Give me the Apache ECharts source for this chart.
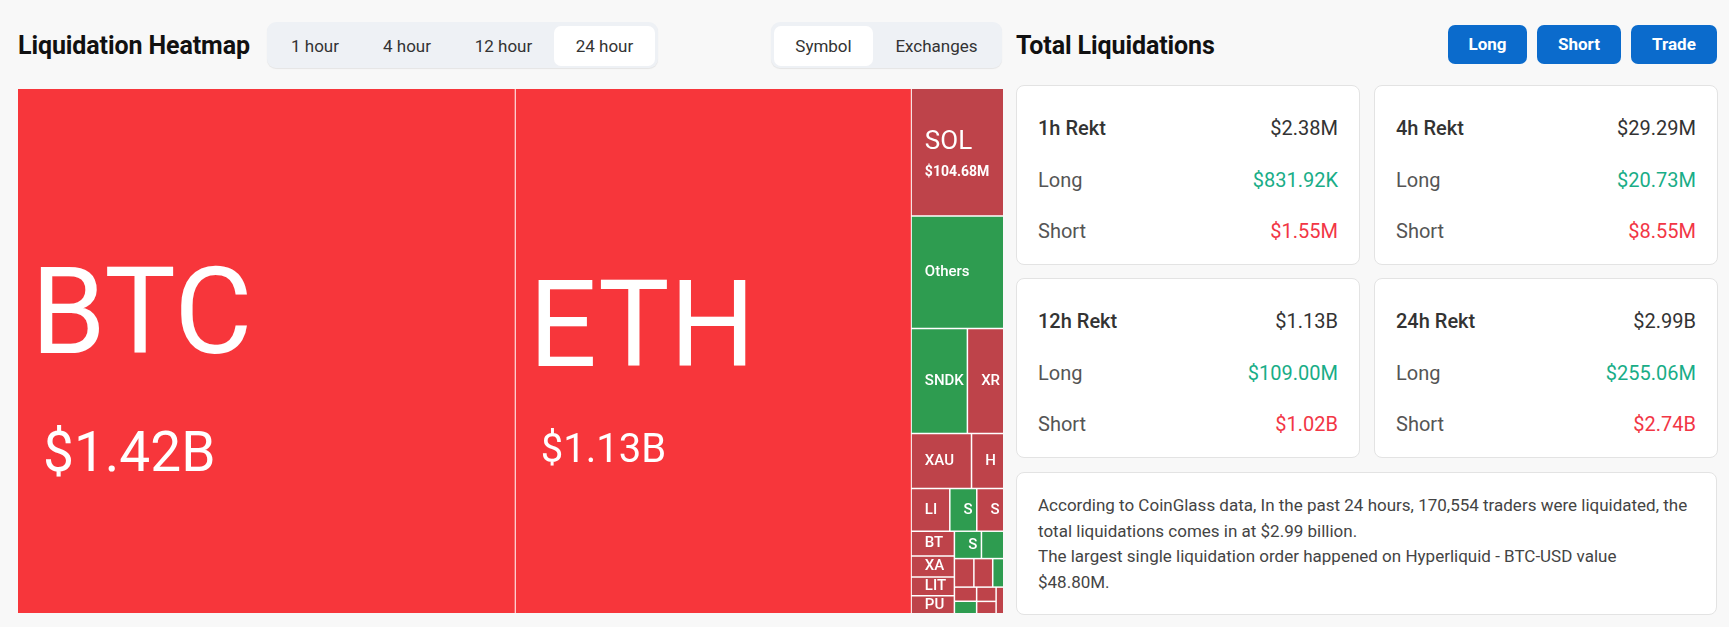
<!DOCTYPE html>
<html>
<head>
<meta charset="utf-8">
<script src="https://cdn.jsdelivr.net/npm/echarts@6/dist/echarts.min.js"></script>
<style>
html,body{margin:0;padding:0;background:#f8f8f8;width:1729px;height:627px;overflow:hidden;font-family:Roboto,"Noto Sans",sans-serif;}
.abs{position:absolute;}
.h1{font-size:25px;font-weight:700;color:#111;line-height:30px;white-space:nowrap;letter-spacing:-0.1px;}
.seg{background:#eef1f5;border-radius:9px;box-shadow:0 1px 1px rgba(0,0,0,0.08);}
.seg span{position:absolute;top:4px;height:40px;line-height:40px;text-align:center;font-size:17px;color:#333;}
.seg span.on{background:#fff;border-radius:7px;}
.btn{position:absolute;top:25px;height:39px;line-height:39px;background:#0b6bcc;color:#fff;border-radius:7px;font-weight:700;font-size:17px;text-align:center;}
.card{position:absolute;background:#fff;border:1px solid #e3e3e3;border-radius:8px;box-sizing:border-box;}
.row{position:absolute;left:21px;right:21px;display:flex;justify-content:space-between;font-size:20px;line-height:24px;color:#555;}
.row.t{color:#333;font-weight:500;}
.row .v{color:#333;font-weight:400;}
.g{color:#19ad87!important;}
.r{color:#f23645!important;}
.txt{position:absolute;left:21px;top:20px;font-size:17px;line-height:25.7px;color:#444;white-space:nowrap;}
#chart{position:absolute;left:18px;top:89px;width:985px;height:524px;}
</style>
</head>
<body>
<div class="abs h1" style="left:18px;top:31px;">Liquidation Heatmap</div>
<div class="abs seg" style="left:267px;top:22px;width:391px;height:46px;">
  <span style="left:2px;width:92px;">1 hour</span>
  <span style="left:94px;width:92px;">4 hour</span>
  <span style="left:186px;width:101px;">12 hour</span>
  <span class="on" style="left:287px;width:101px;">24 hour</span>
</div>
<div class="abs seg" style="left:771px;top:22px;width:231px;height:46px;">
  <span class="on" style="left:3px;width:99px;">Symbol</span>
  <span style="left:102px;width:127px;">Exchanges</span>
</div>
<div class="abs h1" style="left:1016px;top:31px;">Total Liquidations</div>
<div class="btn" style="left:1448px;width:79px;">Long</div>
<div class="btn" style="left:1537px;width:84px;">Short</div>
<div class="btn" style="left:1631px;width:86px;">Trade</div>

<div id="cards"></div>
<div class="card" style="left:1016px;top:472px;width:701px;height:143px;">
  <div class="txt">According to CoinGlass data, In the past 24 hours, 170,554 traders were liquidated, the<br>total liquidations comes in at $2.99 billion.<br>The largest single liquidation order happened on Hyperliquid - BTC-USD value<br>$48.80M.</div>
</div>

<div id="chart"></div>

<script>
// ---- Total liquidation cards ----
const periods = ['1h Rekt', '4h Rekt', '12h Rekt', '24h Rekt'];
const totals  = ['$2.38M', '$29.29M', '$1.13B', '$2.99B'];
const longs   = ['$831.92K', '$20.73M', '$109.00M', '$255.06M'];
const shorts  = ['$1.55M', '$8.55M', '$1.02B', '$2.74B'];

// ---- Heatmap (treemap) data ----
const symbols = ['BTC','ETH','SOL','Others','SNDK','XRP','XAU','HYPE','LINK','SPCX','SKHX','BTW','XAG','LIT','PUMP','SOPH','SKY','TRUMP','CL','WLFI','SUI','BNB','XPL','AVAX','DOGE'];
const sizes   = [1420, 1130, 63.9, 56.3, 31.9, 20.6, 18.0, 9.6, 8.9, 6.2, 6.2, 5.8, 4.9, 4.4, 4.2, 4.0, 3.3, 3.0, 2.9, 1.7, 1.7, 1.5, 1.5, 1.3, 1.1];
const amountLabels = ['$1.42B', '$1.13B', '$104.68M'];
const sides   = ['S+','S+','S','L','L','S','S','S','S','S','L','S','S','S','S','L','L','S','S','S','L','S','L','S','S'];
const majorsCount = 2;

// cards
(function(){
  const pos = [[1016,85],[1374,85],[1016,278],[1374,278]];
  let html = '';
  periods.forEach((p,i)=>{
    html += '<div class="card" style="left:'+pos[i][0]+'px;top:'+pos[i][1]+'px;width:344px;height:180px;">'
      + '<div class="row t" style="top:30px;"><span>'+p+'</span><span class="v">'+totals[i]+'</span></div>'
      + '<div class="row" style="top:82px;"><span>Long</span><span class="g">'+longs[i]+'</span></div>'
      + '<div class="row" style="top:133px;"><span>Short</span><span class="r">'+shorts[i]+'</span></div>'
      + '</div>';
  });
  document.getElementById('cards').innerHTML = html;
})();

const sideColor = {'S+':'#f7363b', 'S':'#be434a', 'L':'#2e9c50'};
// label typography for the large tiles: gap above name, name line, value line
const bigStyle = {
  BTC: {gap:134, nf:120, nlh:200, vf:55, vlh:69, indent:12, vw:'normal'},
  ETH: {gap:167, nf:120, nlh:160, vf:40, vlh:71, indent:12, vw:'normal'},
  SOL: {gap:38,  nf:26,  nlh:30,  vf:14, vlh:31, indent:0,  vw:'bold'}
};
const FONT = 'Roboto';

function leaf(i){
  const item = {name: symbols[i], value: sizes[i], itemStyle: {color: sideColor[sides[i]]}};
  const st = bigStyle[symbols[i]];
  if (st) {
    item.label = {
      formatter: '{s| }\n{n|' + symbols[i] + '}\n{v|' + amountLabels[i] + '}',
      rich: {
        s: {fontSize: 10, lineHeight: st.gap},
        n: {fontSize: st.nf, lineHeight: st.nlh, color: '#fff', fontFamily: FONT, fontWeight: 'normal'},
        v: {fontSize: st.vf, lineHeight: st.vlh, color: '#fff', fontFamily: FONT, fontWeight: st.vw, padding: [0,0,0,st.indent]}
      }
    };
  }
  return item;
}

const majors = [], alts = [];
symbols.forEach((s,i)=>{ (i < majorsCount ? majors : alts).push(leaf(i)); });

const chart = echarts.init(document.getElementById('chart'), null, {renderer:'canvas'});
chart.setOption({
  animation: false,
  series: [{
    type: 'treemap',
    left: 0, top: 0, right: 0, bottom: 0,
    roam: false,
    nodeClick: false,
    breadcrumb: {show: false},
    silent: true,
    label: {
      show: true,
      position: 'insideLeft',
      distance: 0,
      padding: [0,0,0,13],
      color: '#fff',
      fontFamily: FONT,
      fontSize: 15,
      fontWeight: 500,
      overflow: 'truncate',
      ellipsis: ''
    },
    upperLabel: {show: false},
    levels: [
      {itemStyle: {borderWidth: 0, gapWidth: 1, borderColor: '#fff'}},
      {itemStyle: {borderWidth: 0, gapWidth: 1, borderColor: '#fff'}, upperLabel: {show: false}},
      {itemStyle: {borderWidth: 0, gapWidth: 0}}
    ],
    data: [
      {name: 'Majors', children: majors},
      {name: 'Alts', children: alts, itemStyle: {gapWidth: 1.5}}
    ]
  }]
});
</script>
</body>
</html>
